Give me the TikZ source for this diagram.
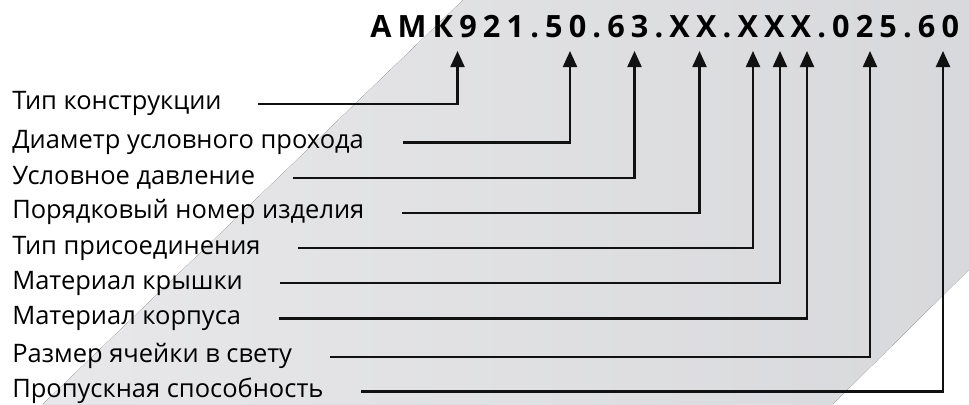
\documentclass[tikz,border=0pt]{standalone}
\usepackage{fontspec}
\setmainfont{Open Sans}
\newfontfamily\codefont[LetterSpace=20]{Open Sans}
\usetikzlibrary{arrows.meta, positioning}
\definecolor{bandlight}{HTML}{E8E8EA}
\definecolor{banddark}{HTML}{D3D4D7}
\definecolor{inkline}{HTML}{111111}

\begin{document}
\begin{tikzpicture}[x=0.75pt, y=-0.75pt,
      >={Triangle[length=12pt, width=10.5pt]},
      label/.style={anchor=west, inner sep=0pt, text height=0.86em,
                    text depth=0pt, font=\fontsize{19.1}{22}\selectfont},
      code/.style={anchor=base west, inner sep=0pt,
                   font=\fontsize{23}{28}\selectfont\codefont\bfseries},
      link/.style={->, line width=1.65pt, draw=inkline}]
    \useasboundingbox (0,0) rectangle (969,404);
    % grey band behind
    \fill[left color=bandlight, right color=banddark]
      (463,0) -- (1242,0) -- (833,404) -- (43,404) -- cycle;
    \node[code] (code) at (370,37.3) {АМК921.50.63.ХХ.ХХХ.025.60};
    \coordinate (p1) at (457.5,51);
    \coordinate (p2) at (570,51);
    \coordinate (p3) at (634.5,51);
    \coordinate (p4) at (699.5,51);
    \coordinate (p5) at (753,51);
    \coordinate (p6) at (780,51);
    \coordinate (p7) at (807,51);
    \coordinate (p8) at (870,51);
    \coordinate (p9) at (943,51);
    \node[label] (l1) at (12,104)   {Тип конструкции};
    \node[label] (l2) at (12,142.5) {Диаметр условного прохода};
    \node[label] (l3) at (12,178.3) {Условное давление};
    \node[label] (l4) at (12,213)   {Порядковый номер изделия};
    \node[label] (l5) at (12,248.3) {Тип присоединения};
    \node[label] (l6) at (12,283.3) {Материал крышки};
    \node[label] (l7) at (12,318.5) {Материал корпуса};
    \node[label] (l8) at (12,357)   {Размер ячейки в свету};
    \node[label] (l9) at (12,391.5) {Пропускная способность};
    \draw[link] ([xshift=27pt]l1.east) -| (p1);
    \draw[link] ([xshift=29pt]l2.east) -| (p2);
    \draw[link] ([xshift=28pt]l3.east) -| (p3);
    \draw[link] ([xshift=28pt]l4.east) -| (p4);
    \draw[link] ([xshift=28pt]l5.east) -| (p5);
    \draw[link] ([xshift=28pt]l6.east) -| (p6);
    \draw[link] ([xshift=28pt]l7.east) -| (p7);
    \draw[link] ([xshift=28pt]l8.east) -| (p8);
    \draw[link] ([xshift=28pt]l9.east) -| (p9);
  \end{tikzpicture}
\end{document}
